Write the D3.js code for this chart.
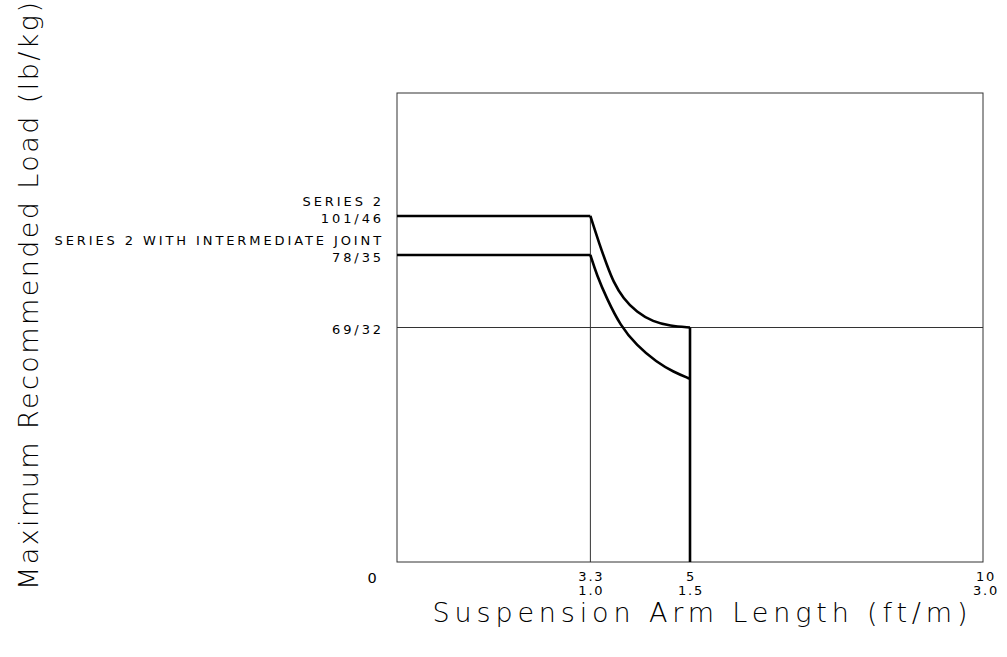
<!DOCTYPE html>
<html>
<head>
<meta charset="utf-8">
<script src="https://cdn.jsdelivr.net/npm/d3@7/dist/d3.min.js"></script>
<style>
  body { margin: 0; background: #fff; }
  svg text { font-family: "DejaVu Sans", "Liberation Sans", sans-serif; fill: #000; }
  .small { font-size: 13px; letter-spacing: 2.9px; }
  .tick { font-size: 13px; letter-spacing: 1.8px; }
  .title { font-size: 27px; font-weight: 200; }
</style>
</head>
<body>
<svg id="chart" width="1007" height="657"></svg>
<script>
// x ticks: feet on top, metres below
const xTicksFt = [0, 3.3, 5, 10];
const xTicksM = ["", "1.0", "1.5", "3.0"];
// y ticks in lb, labels lb/kg
const yTicksLb = [0, 69, 78, 101];
const yTickLabels = ["0", "69/32", "78/35", "101/46"];
const seriesNames = ["SERIES 2", "SERIES 2 WITH INTERMEDIATE JOINT"];

// [ft, lb]
const series2 = [[0, 101], [3.3, 101], [3.46, 83.8], [3.58, 76.8], [3.69, 74.7], [3.86, 72.6],
  [4.09, 70.9], [4.37, 69.7], [4.66, 69.2], [5, 69], [5, 0]];
const series2Joint = [[0, 78], [3.3, 78], [3.41, 75.5], [3.58, 72.6], [3.81, 69.25], [4.09, 63.7],
  [4.43, 58.8], [4.72, 55.9], [5, 53.9]];

const svg = d3.select("#chart");
const plotLeft = 397, plotRight = 983, plotTop = 93, plotBottom = 562;

const x = d3.scaleLinear().domain([0, 10]).range([plotLeft, plotRight]);
// the drawing is not to scale on y, so piecewise scale through the labelled loads
const y = d3.scaleLinear().domain(yTicksLb).range([plotBottom, 327.5, 255, 216]);

// frame
svg.append("rect")
  .attr("x", plotLeft).attr("y", plotTop)
  .attr("width", plotRight - plotLeft).attr("height", plotBottom - plotTop)
  .attr("fill", "none").attr("stroke", "#333").attr("stroke-width", 1);

// thin guide lines
svg.append("line")
  .attr("x1", x(0)).attr("x2", x(10))
  .attr("y1", y(69)).attr("y2", y(69))
  .attr("stroke", "#333").attr("stroke-width", 1);
svg.append("line")
  .attr("x1", x(3.3)).attr("x2", x(3.3))
  .attr("y1", y(101)).attr("y2", y(0))
  .attr("stroke", "#333").attr("stroke-width", 1);

const straight = d3.line().x(d => x(d[0])).y(d => y(d[1]));
const smooth = d3.line().x(d => x(d[0])).y(d => y(d[1])).curve(d3.curveBasis);

function drawSeries(pts) {
  const knee = pts.findIndex(d => d[0] === 3.3);
  const end = pts.findIndex(d => d[0] === 5);
  const g = svg.append("g").attr("fill", "none").attr("stroke", "#000")
    .attr("stroke-width", 2.6).attr("stroke-linejoin", "round");
  g.append("path").attr("d", straight(pts.slice(0, knee + 1)));
  g.append("path").attr("d", smooth(pts.slice(knee, end + 1)));
  if (end < pts.length - 1) g.append("path").attr("d", straight(pts.slice(end)));
}
drawSeries(series2);
drawSeries(series2Joint);

// y labels
yTicksLb.forEach(function(v, i) {
  if (v === 0) return;
  svg.append("text").attr("class", "small")
    .attr("x", 384).attr("y", y(v) + 6.5)
    .attr("text-anchor", "end").text(yTickLabels[i]);
});
svg.append("text").attr("class", "small")
  .attr("x", 384).attr("y", y(101) - 10)
  .attr("text-anchor", "end").text(seriesNames[0]);
svg.append("text").attr("class", "small")
  .attr("x", 384).attr("y", y(78) - 10)
  .attr("text-anchor", "end").text(seriesNames[1]);

// x labels
xTicksFt.forEach(function(v, i) {
  if (v === 0) {
    svg.append("text").attr("class", "tick").style("font-size", "14.5px")
      .attr("x", x(0) - 24).attr("y", plotBottom + 21)
      .attr("text-anchor", "middle").text(yTickLabels[0]);
    return;
  }
  const cx = v === 10 ? x(v) + 3 : x(v) + 1;
  svg.append("text").attr("class", "tick")
    .attr("x", cx).attr("y", plotBottom + 19)
    .attr("text-anchor", "middle").text(v);
  svg.append("text").attr("class", "tick")
    .attr("x", cx).attr("y", plotBottom + 33)
    .attr("text-anchor", "middle").text(xTicksM[i]);
});

// axis titles
svg.append("text").attr("class", "title")
  .attr("x", 700).attr("y", 622)
  .attr("text-anchor", "middle")
  .attr("textLength", 535).attr("lengthAdjust", "spacing")
  .text("Suspension Arm Length (ft/m)");
svg.append("text").attr("class", "title")
  .attr("transform", "translate(38,296) rotate(-90)")
  .attr("text-anchor", "middle")
  .attr("textLength", 588).attr("lengthAdjust", "spacing")
  .text("Maximum Recommended Load (lb/kg)");
</script>
</body>
</html>
